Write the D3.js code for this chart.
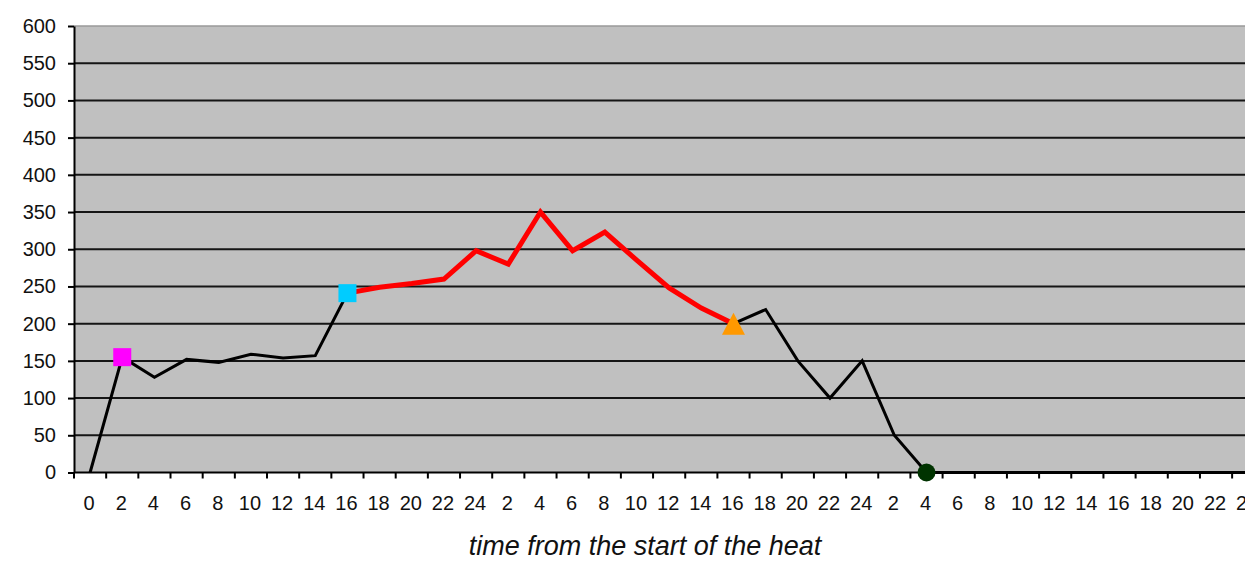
<!DOCTYPE html>
<html>
<head>
<meta charset="utf-8">
<script src="https://cdn.jsdelivr.net/npm/d3@7"></script>
<style>
  html, body { margin: 0; padding: 0; background: #fff; overflow: hidden; }
  svg { display: block; }
  text { font-family: "Liberation Sans", Arial, sans-serif; fill: #111; }
</style>
</head>
<body>
<svg id="chart" width="1245" height="561"></svg>
<script>
// ---- data ----
const xLabels = ["0","2","4","6","8","10","12","14","16","18","20","22","24",
                 "2","4","6","8","10","12","14","16","18","20","22","24",
                 "2","4","6","8","10","12","14","16","18","20","22","24"];
const values = [0, 155, 128, 152, 148, 159, 154, 157, 241, 249, 254, 260, 298,
                280, 350, 298, 323, 285, 248, 221, 200, 219, 150, 100, 150,
                50, 0, 0, 0, 0, 0, 0, 0, 0, 0, 0, 0];
const redStart = 8, redEnd = 20;
const yTicks = [0, 50, 100, 150, 200, 250, 300, 350, 400, 450, 500, 550, 600];
const markers = [
  { index: 1,  shape: "square",   color: "#FF00FF" },
  { index: 8,  shape: "square",   color: "#00CCFF" },
  { index: 20, shape: "triangle", color: "#FF9900" },
  { index: 26, shape: "circle",   color: "#003300" }
];
const xTitle = "time from the start of the heat";

// ---- layout ----
const plotLeft = 74, plotTop = 26, plotBottom = 472.5;
const bandW = 32.17;
const plotRight = plotLeft + bandW * xLabels.length;

const svg = d3.select("#chart");
const idx = d3.range(xLabels.length);
const x = d3.scaleBand().domain(idx).range([plotLeft, plotRight]).paddingInner(0).paddingOuter(0);
const y = d3.scaleLinear().domain([0, 600]).range([plotBottom, plotTop]);
const cx = i => x(i) + x.bandwidth() / 2;

// plot area
svg.append("rect").attr("x", plotLeft).attr("y", plotTop)
  .attr("width", plotRight - plotLeft).attr("height", plotBottom - plotTop)
  .attr("fill", "#C0C0C0");
svg.append("line").attr("x1", plotLeft).attr("x2", plotRight).attr("y1", y(600)).attr("y2", y(600))
  .attr("stroke", "#9a9a9a").attr("stroke-width", 1.5);

// gridlines
svg.append("g").selectAll("line").data(yTicks.filter(d => d > 0 && d < 600)).join("line")
  .attr("x1", plotLeft).attr("x2", plotRight)
  .attr("y1", d => y(d)).attr("y2", d => y(d))
  .attr("stroke", "#151515").attr("stroke-width", 2);

// y axis
const yAxis = d3.axisLeft(y).tickValues(yTicks).tickSize(6).tickPadding(12).tickSizeOuter(0);
const gy = svg.append("g").attr("transform", `translate(${plotLeft},0)`).call(yAxis);
gy.select(".domain").attr("stroke", "#000").attr("stroke-width", 2);
gy.selectAll(".tick line").attr("stroke", "#000").attr("stroke-width", 2);
gy.selectAll(".tick text").style("font-size", "20px").attr("fill", "#111")
  .style("font-family", "'Liberation Sans', Arial, sans-serif");

// x axis
const gx = svg.append("g");
gx.append("line").attr("x1", plotLeft).attr("x2", plotRight).attr("y1", plotBottom).attr("y2", plotBottom)
  .attr("stroke", "#000").attr("stroke-width", 2);
const boundaries = idx.map(i => x(i)).concat([plotRight]);
gx.selectAll("line.tk").data(boundaries).join("line").attr("class", "tk")
  .attr("x1", d => d).attr("x2", d => d).attr("y1", plotBottom).attr("y2", plotBottom + 6)
  .attr("stroke", "#000").attr("stroke-width", 2);
gx.selectAll("text").data(idx).join("text")
  .attr("x", i => cx(i) - 1).attr("y", 510)
  .attr("text-anchor", "middle").style("font-size", "20px")
  .text(i => xLabels[i]);

// axis title
svg.append("text").attr("x", 645).attr("y", 555)
  .attr("text-anchor", "middle").style("font-size", "27px").style("font-style", "italic")
  .text(xTitle);

// lines
const line = d3.line().x(i => cx(i)).y(i => y(values[i]));
svg.append("path").datum(idx).attr("d", line)
  .attr("fill", "none").attr("stroke", "#000").attr("stroke-width", 3)
  .attr("stroke-linejoin", "miter");
svg.append("path").datum(d3.range(redStart, redEnd + 1)).attr("d", line)
  .attr("fill", "none").attr("stroke", "#FF0000").attr("stroke-width", 5)
  .attr("stroke-linejoin", "miter");

// markers
const gm = svg.append("g");
markers.forEach(m => {
  const px = cx(m.index), py = y(values[m.index]);
  if (m.shape === "square") {
    gm.append("rect").attr("x", px - 9).attr("y", py - 9).attr("width", 18).attr("height", 18)
      .attr("fill", m.color);
  } else if (m.shape === "triangle") {
    gm.append("path").attr("d", "M0,-11L11.5,11L-11.5,11Z")
      .attr("transform", `translate(${px},${py})`).attr("fill", m.color);
  } else {
    gm.append("circle").attr("cx", px).attr("cy", py).attr("r", 9).attr("fill", m.color);
  }
});
</script>
</body>
</html>
